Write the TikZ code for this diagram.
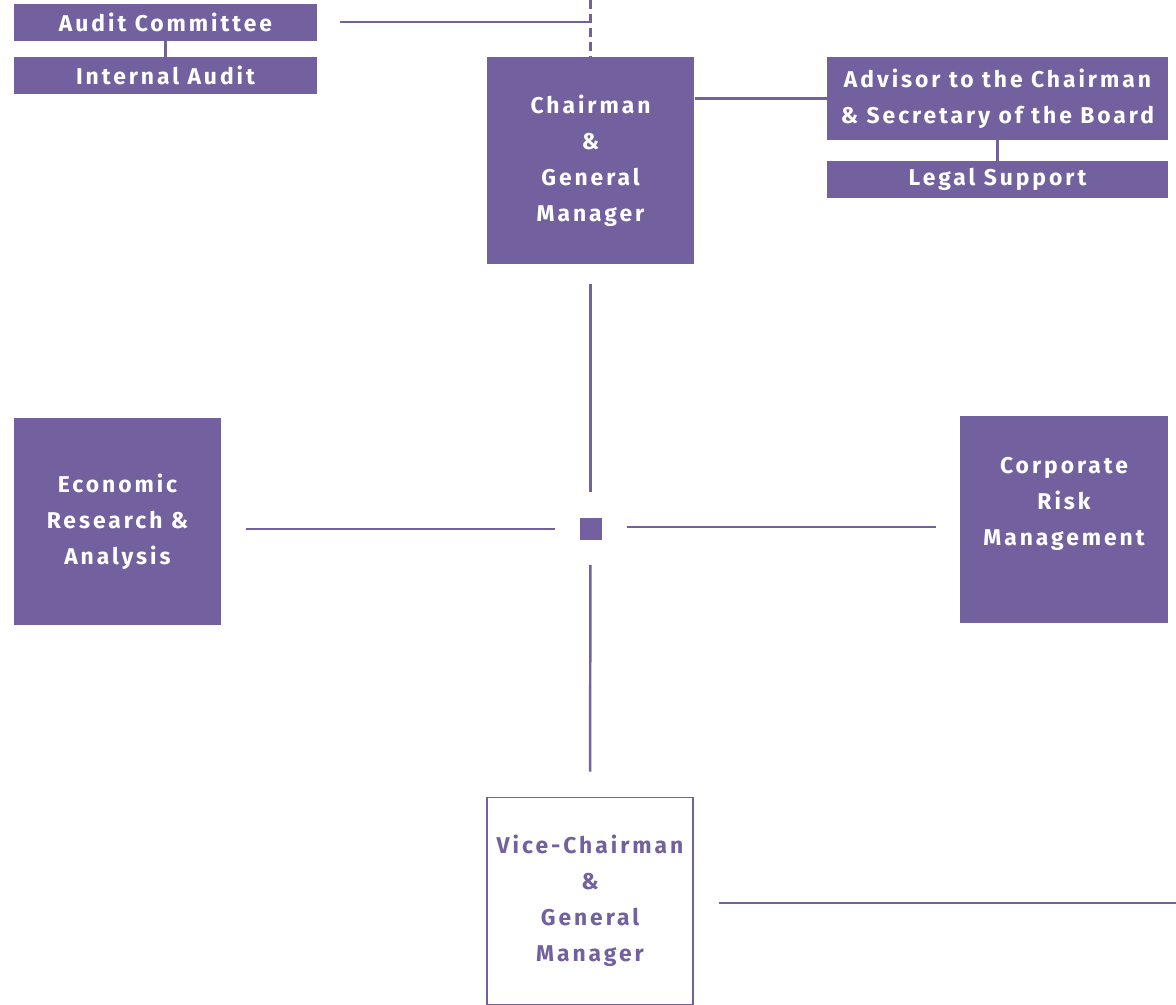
\documentclass[tikz,border=0pt]{standalone}
\usepackage{fontspec}
\setmainfont{Fira Sans}[LetterSpace=13]
\usepackage{tikz}
\usetikzlibrary{calc}

\definecolor{boardpurple}{RGB}{115,96,158}

\begin{document}
\begin{tikzpicture}[x=0.02cm, y=-0.02cm,
    every node/.style={font=\fontsize{13}{20.5}\selectfont\bfseries, align=center, inner sep=0pt},
    unit/.style={fill=boardpurple, text=white, draw=none},
    deputy/.style={draw=boardpurple, line width=0.9pt, fill=white, text=boardpurple},
    link/.style={draw=boardpurple, line width=1.4pt},
    ]
\def\gap{0.5cm}
\useasboundingbox (0,0) rectangle (1176,1004);

% Audit
\node[unit, minimum width=6.06cm, minimum height=0.74cm] (audit) at (165.5,22.5) {Audit Committee};
\node[unit, minimum width=6.06cm, minimum height=0.74cm] (intaudit) at (165.5,75.5) {Internal Audit};

% Chairman
\node[unit, minimum width=4.16cm, minimum height=4.14cm] (chair) at (590.5,160.5) {Chairman\\\&\\General\\Manager};

% Advisor
\node[unit, minimum width=6.82cm, minimum height=1.66cm] (advisor) at (997.5,98.5) {Advisor to the Chairman\\\& Secretary of the Board};
\node[unit, minimum width=6.82cm, minimum height=0.74cm] (legal) at (997.5,179.5) {Legal Support};

% Hub
\node[unit, minimum size=0.44cm] (hub) at (590.5,528.5) {};

% Side units
\node[unit, minimum width=4.14cm, minimum height=4.14cm] (econ) at (117.5,521.5) {Economic\\Research \&\\Analysis};
\node[unit, minimum width=4.16cm, minimum height=4.14cm] (risk) at (1064,519.5) {Corporate\\Risk\\Management\\\mbox{}};

% Vice-Chairman
\node[deputy, minimum width=4.12cm, minimum height=4.14cm] (vice) at (590,901) {Vice-Chairman\\\&\\General\\Manager};

% Free ends
\coordinate (board) at (590.5,0);
\coordinate (auditjoin) at (590.5,22);
\coordinate (viceend) at (1176,903);

% Lines
\draw[link, dashed, dash pattern=on 5pt off 3pt] (board) -- (chair.north);
\draw[link, shorten <=\gap-0.04cm] (audit.east |- auditjoin) -- (auditjoin);
\draw[link] (audit.south) -- (intaudit.north);
\draw[link] (advisor.west -| chair.east) -- (advisor.west);
\draw[link] (advisor.south) -- (legal.north);

\draw[link, shorten <=0.4cm, shorten >=\gap] (chair.south) -- (hub.north);
\draw[link, shorten <=\gap, shorten >=0.48cm] ($(econ.east |- hub.west)+(0,0.5)$) -- ($(hub.west)+(0,0.5)$);
\draw[link, shorten <=\gap, shorten >=0.48cm] ($(hub.east)+(0,-1.5)$) -- ($(risk.west |- hub.east)+(0,-1.5)$);
\draw[link, shorten <=\gap, shorten >=\gap] (hub.south) -- (vice.north);
\draw[link, shorten <=\gap] (vice.east |- viceend) -- (viceend);
\end{tikzpicture}
\end{document}
